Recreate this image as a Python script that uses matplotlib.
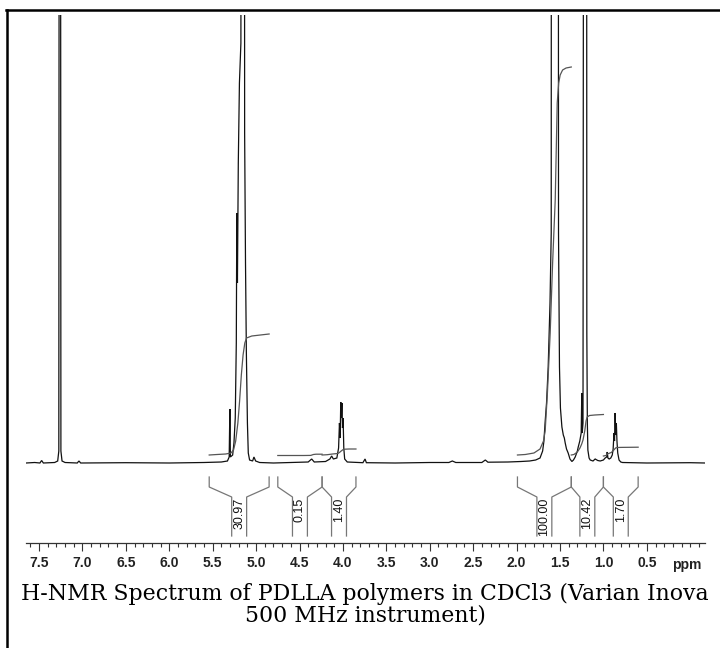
import matplotlib
matplotlib.use("Agg")
import matplotlib.pyplot as plt
from matplotlib.lines import Line2D
from matplotlib.ticker import FixedLocator, MultipleLocator, FormatStrFormatter

# ---------------- data ----------------
# 1H spectrum trace: chemical shift (ppm) and intensity (baseline = 0,
# full scale of the plot = 448; larger values are cut off at the top)
spec_ppm = [7.65, 7.55, 7.49, 7.47, 7.45, 7.32, 7.285, 7.272, 7.26, 7.248, 7.235, 7.20,
            7.06, 7.04, 7.02, 6.50, 6.00, 5.60, 5.40, 5.33, 5.31, 5.302, 5.296, 5.27, 5.255,
            5.24, 5.228, 5.222, 5.215, 5.205, 5.192, 5.175, 5.158, 5.14, 5.132, 5.122, 5.112,
            5.10, 5.09, 5.075, 5.04, 5.025, 5.005, 4.96, 4.80, 4.60, 4.40, 4.36, 4.33, 4.20,
            4.15, 4.13, 4.11, 4.07, 4.05, 4.04, 4.032, 4.025, 4.018, 4.012, 4.005, 3.998, 3.99,
            3.98, 3.95, 3.77, 3.745, 3.73, 3.40, 3.00, 2.78, 2.74, 2.70, 2.40, 2.36, 2.33, 2.10,
            1.95, 1.85, 1.78, 1.73, 1.70, 1.685, 1.672, 1.655, 1.636, 1.615, 1.601, 1.595,
            1.525, 1.517, 1.506, 1.495, 1.478, 1.462, 1.45, 1.44, 1.425, 1.406, 1.385, 1.363,
            1.345, 1.325, 1.30, 1.29, 1.272, 1.256, 1.249, 1.244, 1.235, 1.216, 1.198, 1.191,
            1.185, 1.179, 1.165, 1.152, 1.12, 1.095, 1.065, 1.037, 1.00, 0.98, 0.962, 0.956,
            0.948, 0.934, 0.915, 0.898, 0.888, 0.878, 0.872, 0.865, 0.858, 0.851, 0.844, 0.835,
            0.82, 0.80, 0.78, 0.50, 0.00, -0.17]
spec_int = [0, 0.5, 0, 2.5, 0, 0.5, 2, 12, 2000, 12, 2, 0.5,
            0, 2, 0, 0.3, 0, 0.5, 1, 2, 6, 54, 6, 8, 20,
            45, 120, 250, 180, 300, 380, 420, 2000, 2000, 330, 200, 110,
            40, 10, 3, 2, 6, 2, 0.5, 0, 0.5, 1, 4, 1, 1.5,
            4, 7, 4, 5, 15, 40, 25, 61, 45, 60, 35, 45, 15,
            4, 1, 0.3, 4, 0.3, 0, 0.5, 0.5, 2, 0.5, 0.5, 3, 0.8, 1,
            1.5, 2, 3, 5, 12, 22, 40, 60, 96, 160, 230, 2000,
            2000, 230, 96, 55, 36, 28, 25, 20, 14, 10, 4, 1.5,
            3, 6, 12, 16, 22, 30, 70, 30, 40, 2000, 2000, 130,
            40, 13, 5, 3, 2, 4, 2.5, 2, 3, 5, 6, 11,
            5, 4, 5, 8, 14, 30, 22, 50, 28, 40, 22, 10,
            3, 1, 0.5, 0, 0.3, 0]

# integration regions (ppm) and integral values
int_start = [5.54, 4.75, 4.24, 1.99, 1.37, 1.00]
int_end = [4.85, 4.24, 3.85, 1.37, 1.00, 0.60]
int_labels = ["30.97", "0.15", "1.40", "100.00", "10.42", "1.70"]

# running integral curves (ppm, height in the same units as the spectrum)
intA_ppm = [5.54, 5.45, 5.35, 5.29, 5.26, 5.235, 5.21, 5.19, 5.17, 5.15, 5.13, 5.11, 5.05, 4.95, 4.85]
intA_val = [8, 8.5, 9, 10, 13, 22, 40, 62, 88, 108, 120, 125, 127, 128, 129]
intB_ppm = [4.75, 4.60, 4.45, 4.37, 4.34, 4.31, 4.24]
intB_val = [7.5, 7.5, 7.5, 7.6, 8.5, 8.8, 8.8]
intC_ppm = [4.24, 4.18, 4.12, 4.06, 4.04, 4.02, 4.00, 3.98, 3.93, 3.85]
intC_val = [8, 8.3, 9, 9.5, 10.5, 12, 13.3, 13.8, 14, 14]
intD_ppm = [1.99, 1.90, 1.80, 1.73, 1.69, 1.671, 1.645, 1.613, 1.585, 1.555, 1.532, 1.515, 1.498, 1.47, 1.43, 1.37]
intD_val = [8, 8.5, 10, 14, 22, 32, 70, 130, 200, 263, 360, 380, 388, 393, 395, 396]
intE_ppm = [1.37, 1.34, 1.30, 1.27, 1.25, 1.235, 1.215, 1.20, 1.187, 1.16, 1.10, 1.00]
intE_val = [8, 8.5, 11, 15, 19, 23, 32, 42, 46, 47.5, 48, 48.5]
intF_ppm = [1.00, 0.97, 0.955, 0.94, 0.91, 0.89, 0.875, 0.86, 0.84, 0.80, 0.70, 0.60]
intF_val = [7, 7.5, 9, 9.5, 10.5, 12, 13.5, 15, 15.5, 15.6, 15.7, 15.8]

major_ticks = [7.5, 7.0, 6.5, 6.0, 5.5, 5.0, 4.5, 4.0, 3.5, 3.0, 2.5, 2.0, 1.5, 1.0, 0.5]

caption = "H-NMR Spectrum of PDLLA polymers in CDCl3 (Varian Inova\n500 MHz instrument)"

# ---------------- figure ----------------
W, H = 720, 648
fig = plt.figure(figsize=(W / 100, H / 100), dpi=100)
fig.patch.set_facecolor("white")

ax_left, ax_right = 26, 705          # pixel extent of the plot
ax_top, ax_bottom = 15, 543
ax = fig.add_axes([ax_left / W, 1 - ax_bottom / H, (ax_right - ax_left) / W, (ax_bottom - ax_top) / H])
ax.set_xlim(7.65, -0.17)
ax.set_ylim(-80, 448)

# spectrum
ax.plot(spec_ppm, spec_int, color="#111111", lw=0.9, solid_joinstyle="miter")

# integral curves
for xs, ys in [(intA_ppm, intA_val), (intB_ppm, intB_val), (intC_ppm, intC_val),
               (intD_ppm, intD_val), (intE_ppm, intE_val), (intF_ppm, intF_val)]:
    ax.plot(xs, ys, color="#555555", lw=0.9)

# integration brackets
y_top, y_bend, y_diag, y_low = -14, -24, -34, -73
half = 0.086
for s, e, lab in zip(int_start, int_end, int_labels):
    mid = (s + e) / 2
    ax.plot([s, s, mid + half, mid + half], [y_top, y_bend, y_diag, y_low], color="#777777", lw=0.9)
    ax.plot([e, e, mid - half, mid - half], [y_top, y_bend, y_diag, y_low], color="#777777", lw=0.9)
    ax.text(mid, y_diag - 1, lab, rotation=90, ha="center", va="top",
            fontsize=9, family="Liberation Sans", color="#111111")

# axis styling
for side in ("top", "left", "right"):
    ax.spines[side].set_visible(False)
ax.spines["bottom"].set_color("#333333")
ax.spines["bottom"].set_linewidth(0.9)
ax.set_yticks([])
ax.xaxis.set_major_locator(FixedLocator(major_ticks))
ax.xaxis.set_minor_locator(MultipleLocator(0.1))
ax.xaxis.set_major_formatter(FormatStrFormatter("%.1f"))
ax.tick_params(axis="x", which="major", direction="out", length=6, width=0.8, color="#333333",
               pad=3.5, labelsize=10)
ax.tick_params(axis="x", which="minor", direction="out", length=3, width=0.8, color="#333333")
for t in ax.get_xticklabels():
    t.set_fontfamily("Liberation Sans")
    t.set_fontweight("bold")
    t.set_color("#222222")
ax.text(0.035, -102, "ppm", ha="center", va="center", fontsize=10, fontweight="bold",
        family="Liberation Sans", color="#222222", clip_on=False)
ax.patch.set_alpha(0)

# caption (wide serif, sized so its first line spans the figure like the original)
cap = fig.text(0.507, 1 - 605 / H, caption, ha="center", va="center", multialignment="center",
               fontsize=14, family="DejaVu Serif", linespacing=0.95)
fig.canvas.draw()
bb = cap.get_window_extent(renderer=fig.canvas.get_renderer())
cap.set_fontsize(14 * 688 / bb.width)

# outer frame (top and left edges)
fig.add_artist(Line2D([6.5 / W, 1], [1 - 10 / H, 1 - 10 / H], transform=fig.transFigure,
                      color="black", lw=1.8))
fig.add_artist(Line2D([7 / W, 7 / W], [1 - 10 / H, 0], transform=fig.transFigure,
                      color="black", lw=1.8))

fig.savefig("out.png", dpi=100, facecolor="white")
